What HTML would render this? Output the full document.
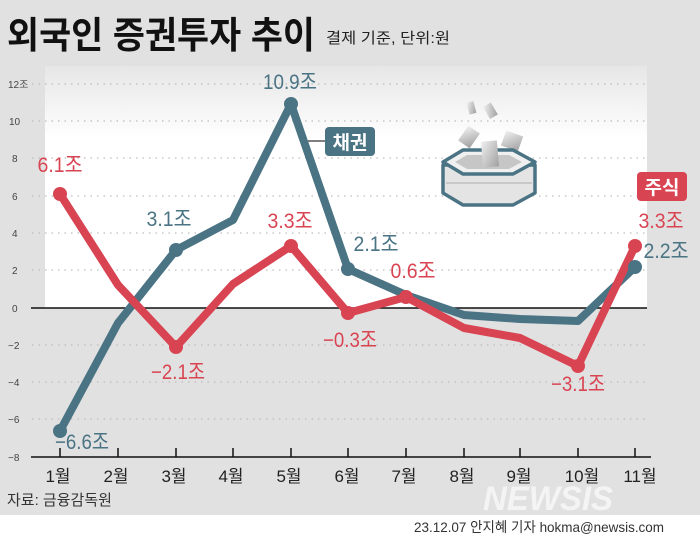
<!DOCTYPE html>
<html><head><meta charset="utf-8"><style>
html,body{margin:0;padding:0;width:700px;height:539px;overflow:hidden;background:#e1e1e1}
svg{display:block}
text{font-family:"Liberation Sans","Noto Sans CJK KR",sans-serif}
</style></head><body>
<svg width="700" height="539" viewBox="0 0 700 539">
<defs>
<linearGradient id="g" x1="0" y1="0" x2="0" y2="1">
<stop offset="0" stop-color="#e6e6e6"/><stop offset="0.3" stop-color="#ffffff"/><stop offset="1" stop-color="#ffffff"/>
</linearGradient>
<linearGradient id="p" x1="0" y1="0" x2="1" y2="1">
<stop offset="0" stop-color="#f0f0f0"/><stop offset="1" stop-color="#a0a0a0"/>
</linearGradient>
</defs>
<rect x="0" y="0" width="700" height="539" fill="#e1e1e1"/>
<rect x="0" y="515" width="700" height="24" fill="#ffffff"/>
<rect x="45" y="66" width="602" height="242" fill="url(#g)"/>
<text x="7" y="48" font-size="37" font-weight="bold" fill="#111" textLength="308" lengthAdjust="spacingAndGlyphs">외국인 증권투자 추이</text>
<text x="326" y="43" font-size="15" fill="#222" textLength="124" lengthAdjust="spacingAndGlyphs">결제 기준, 단위:원</text>
<g stroke="#bdbdbd" stroke-width="1.2" stroke-dasharray="1.5 5">
<line x1="32" y1="84" x2="648" y2="84"/>
<line x1="32" y1="121" x2="648" y2="121"/>
<line x1="32" y1="158" x2="648" y2="158"/>
<line x1="32" y1="196" x2="648" y2="196"/>
<line x1="32" y1="233" x2="648" y2="233"/>
<line x1="32" y1="270" x2="648" y2="270"/>
<line x1="32" y1="345" x2="648" y2="345"/>
<line x1="32" y1="382" x2="648" y2="382"/>
<line x1="32" y1="419" x2="648" y2="419"/>
</g>
<line x1="31" y1="308" x2="647" y2="308" stroke="#111" stroke-width="1.5"/>
<line x1="31" y1="457" x2="651" y2="457" stroke="#111" stroke-width="1.5"/>
<g font-size="10" fill="#444">
<text x="8" y="88">12조</text><text x="9" y="125">10</text><text x="12" y="162">8</text>
<text x="12" y="200">6</text><text x="12" y="237">4</text><text x="12" y="274">2</text>
<text x="12" y="312">0</text><text x="8" y="349">−2</text><text x="8" y="386">−4</text>
<text x="8" y="423">−6</text><text x="8" y="461">−8</text>
</g>
<g stroke="#111" stroke-width="1.5">
<line x1="60" y1="448" x2="60" y2="457"/><line x1="118" y1="448" x2="118" y2="457"/>
<line x1="176" y1="448" x2="176" y2="457"/><line x1="233" y1="448" x2="233" y2="457"/>
<line x1="291" y1="448" x2="291" y2="457"/><line x1="348" y1="448" x2="348" y2="457"/>
<line x1="406" y1="448" x2="406" y2="457"/><line x1="464" y1="448" x2="464" y2="457"/>
<line x1="520" y1="448" x2="520" y2="457"/><line x1="578" y1="448" x2="578" y2="457"/>
<line x1="635" y1="448" x2="635" y2="457"/>
</g>
<g font-size="17" fill="#222" text-anchor="middle">
<text x="58" y="482">1월</text><text x="116" y="482">2월</text><text x="174" y="482">3월</text>
<text x="231" y="482">4월</text><text x="289" y="482">5월</text><text x="347" y="482">6월</text>
<text x="404" y="482">7월</text><text x="462" y="482">8월</text><text x="519" y="482">9월</text>
<text x="582" y="482">10월</text><text x="640" y="482">11월</text>
</g>
<text x="7" y="505" font-size="15" fill="#333">자료: 금융감독원</text>
<text x="548" y="510" font-size="34" font-weight="bold" font-style="italic" fill="#f4f4f4" text-anchor="middle" textLength="130" lengthAdjust="spacingAndGlyphs">NEWSIS</text>
<text x="664" y="532" font-size="14" fill="#333" text-anchor="end" textLength="250" lengthAdjust="spacingAndGlyphs">23.12.07 안지혜 기자 hokma@newsis.com</text>
<!-- pot icon -->
<g>
<rect x="468" y="102" width="7" height="12" fill="url(#p)" transform="rotate(-15 471 108)"/>
<rect x="486" y="104" width="9" height="14" fill="url(#p)" transform="rotate(-30 490 111)"/>
<rect x="462" y="128" width="14" height="18" fill="url(#p)" transform="rotate(35 469 137)"/>
<rect x="503" y="133" width="18" height="16" fill="url(#p)" transform="rotate(20 512 141)"/>
<path d="M443 165 l0 28 l20 12 l50 0 l22 -12 l0 -28z" fill="#e4e4e4" stroke="#4a7384" stroke-width="3.5" stroke-linejoin="round"/>
<line x1="446" y1="183" x2="532" y2="183" stroke="#c8c8c8" stroke-width="2"/>
<path d="M443 162 l20 -12 l50 0 l22 12 l-22 12 l-50 0z" fill="#f0f0f0" stroke="#4a7384" stroke-width="3.5" stroke-linejoin="round"/>
<path d="M455 162 l12 -7 l42 0 l13 7 l-13 7 l-42 0z" fill="#c6c6c6"/>
<rect x="482" y="141" width="16" height="26" fill="url(#p)" transform="rotate(-5 490 154)"/>
</g>
<polyline fill="none" stroke="#4a7384" stroke-width="8" stroke-linejoin="round" stroke-linecap="round"
points="60,431 118,323 176,250 233,220 291,104 348,269 406,295 464,315 520,319 578,321 635,267"/>
<polyline fill="none" stroke="#d94452" stroke-width="8" stroke-linejoin="round" stroke-linecap="round"
points="60,194 118,285 176,347 233,284 291,246 348,313 406,297 464,328 520,338 578,366 635,246"/>
<g fill="#4a7384">
<circle cx="60" cy="431" r="7"/><circle cx="176" cy="250" r="7"/><circle cx="291" cy="104" r="7"/>
<circle cx="348" cy="269" r="7"/><circle cx="635" cy="267" r="7"/>
</g>
<g fill="#d94452">
<circle cx="60" cy="194" r="7"/><circle cx="176" cy="347" r="7"/><circle cx="291" cy="246" r="7"/>
<circle cx="348" cy="313" r="7"/><circle cx="406" cy="297" r="7"/><circle cx="578" cy="366" r="7"/>
<circle cx="635" cy="246" r="7"/>
</g>
<g font-size="21" fill="#4a7384" text-anchor="middle">
<text x="82" y="449" textLength="54" lengthAdjust="spacingAndGlyphs">−6.6조</text>
<text x="169" y="226" textLength="45" lengthAdjust="spacingAndGlyphs">3.1조</text>
<text x="290" y="89" textLength="54" lengthAdjust="spacingAndGlyphs">10.9조</text>
<text x="376" y="251" textLength="45" lengthAdjust="spacingAndGlyphs">2.1조</text>
<text x="666" y="258" textLength="45" lengthAdjust="spacingAndGlyphs">2.2조</text>
</g>
<g font-size="21" fill="#d94452" text-anchor="middle">
<text x="60" y="172" textLength="45" lengthAdjust="spacingAndGlyphs">6.1조</text>
<text x="178" y="379" textLength="54" lengthAdjust="spacingAndGlyphs">−2.1조</text>
<text x="290" y="228" textLength="45" lengthAdjust="spacingAndGlyphs">3.3조</text>
<text x="350" y="347" textLength="54" lengthAdjust="spacingAndGlyphs">−0.3조</text>
<text x="413" y="278" textLength="45" lengthAdjust="spacingAndGlyphs">0.6조</text>
<text x="578" y="391" textLength="54" lengthAdjust="spacingAndGlyphs">−3.1조</text>
<text x="661" y="228" textLength="45" lengthAdjust="spacingAndGlyphs">3.3조</text>
</g>
<line x1="308" y1="141" x2="326" y2="141" stroke="#333" stroke-width="1.2"/>
<rect x="325" y="127" width="50" height="29" rx="4" fill="#4a7384"/>
<text x="350" y="149" font-size="19" fill="#fff" text-anchor="middle" font-weight="bold">채권</text>
<rect x="637" y="172" width="50" height="29" rx="4" fill="#d94452"/>
<text x="662" y="194" font-size="19" fill="#fff" text-anchor="middle" font-weight="bold">주식</text>
</svg>
</body></html>
